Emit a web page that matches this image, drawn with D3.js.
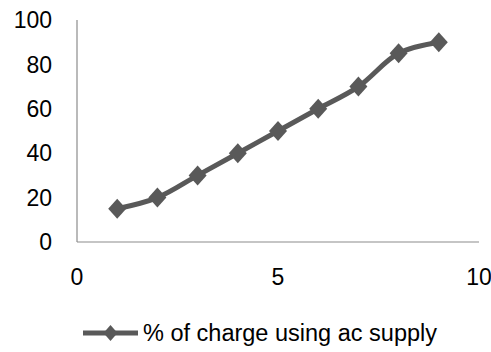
<!DOCTYPE html>
<html><head><meta charset="utf-8">
<script src="https://cdn.jsdelivr.net/npm/d3@7"></script>
<style>body{margin:0;background:#fff}svg{display:block}</style>
</head><body>
<script>
const xValues = [1, 2, 3, 4, 5, 6, 7, 8, 9];
const yValues = [15, 20, 30, 40, 50, 60, 70, 85, 90];
const xTicks = [0, 5, 10];
const yTicks = [0, 20, 40, 60, 80, 100];
const seriesName = "% of charge using ac supply";

const W = 491, H = 352;
const svg = d3.select("body").append("svg").attr("width", W).attr("height", H);
const x = d3.scaleLinear().domain([0, 10]).range([77, 479]);
const y = d3.scaleLinear().domain([0, 100]).range([242, 20]);
const font = "Liberation Sans, Arial, sans-serif";
const color = "#595959";

svg.append("line").attr("x1", x(0)).attr("x2", x(0)).attr("y1", y(100)).attr("y2", y(0))
  .attr("stroke", "#8c8c8c").attr("stroke-width", 1.2);
svg.append("line").attr("x1", x(0)).attr("x2", x(10)).attr("y1", y(0)).attr("y2", y(0))
  .attr("stroke", "#8c8c8c").attr("stroke-width", 1.2);

svg.selectAll("text.yt").data(yTicks).enter().append("text").attr("class", "yt")
  .attr("x", 52).attr("y", d => y(d)).attr("dy", "0.36em").attr("text-anchor", "end")
  .attr("font-family", font).attr("font-size", 23).attr("fill", "#000").text(d => d);
svg.selectAll("text.xt").data(xTicks).enter().append("text").attr("class", "xt")
  .attr("x", d => x(d)).attr("y", 277).attr("dy", "0.36em").attr("text-anchor", "middle")
  .attr("font-family", font).attr("font-size", 23).attr("fill", "#000").text(d => d);

const data = xValues.map((v, i) => [v, yValues[i]]);
const line = d3.line().x(d => x(d[0])).y(d => y(d[1])).curve(d3.curveCatmullRom.alpha(0.5));
svg.append("path").datum(data).attr("d", line).attr("fill", "none")
  .attr("stroke", color).attr("stroke-width", 5).attr("stroke-linejoin", "round");

const diamondPath = (hw, hh) => `M0,${-hh}L${hw},0L0,${hh}L${-hw},0Z`;
svg.selectAll("path.m").data(data).enter().append("path").attr("class", "m")
  .attr("d", diamondPath(9, 10)).attr("transform", d => `translate(${x(d[0])},${y(d[1])})`)
  .attr("fill", color);

// legend
svg.append("line").attr("x1", 83).attr("x2", 138).attr("y1", 333).attr("y2", 333)
  .attr("stroke", color).attr("stroke-width", 5);
svg.append("path").attr("d", diamondPath(7, 8))
  .attr("transform", "translate(110.5,333)").attr("fill", color);
svg.append("text").attr("x", 143).attr("y", 333).attr("dy", "0.36em")
  .attr("font-family", font).attr("font-size", 23).attr("fill", "#000")
  .attr("textLength", 294).attr("lengthAdjust", "spacingAndGlyphs").text(seriesName);
</script>
</body></html>
